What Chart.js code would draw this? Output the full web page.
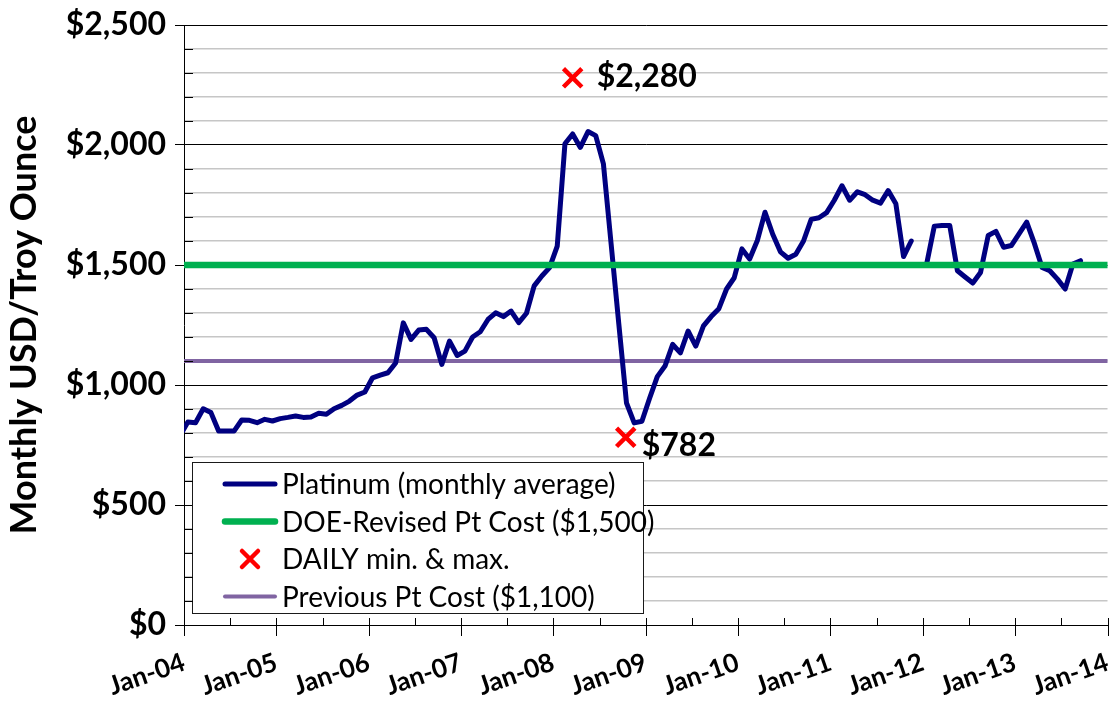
<!DOCTYPE html>
<html>
<head>
<meta charset="utf-8">
<script src="https://cdn.jsdelivr.net/npm/chart.js@4.4.1/dist/chart.umd.min.js"></script>
<style>
  html, body { margin: 0; padding: 0; background: #fff; overflow: hidden; }
  #wrap { width: 1117px; height: 702px; position: relative; overflow: hidden; }
</style>
</head>
<body>
<div id="wrap"><canvas id="ptChart" width="1125" height="702"></canvas></div>
<script>
// ===== DATA =====
// monthly average platinum price, USD/troy oz, Dec-03 .. Sep-13 (null = gap)
const firstMonth = -1; // Dec-03, counted in months from Jan-04
const platinumAvg = [
    790,                                                              // 2003 Dec
    846, 843, 901, 885, 808, 808, 808, 854, 853, 843, 857, 850,       // 2004
    860, 865, 871, 865, 867, 882, 878, 901, 915, 933, 958, 971,       // 2005
    1030, 1041, 1051, 1092, 1259, 1190, 1229, 1232, 1197, 1086, 1183, 1123, // 2006
    1141, 1200, 1222, 1273, 1301, 1285, 1308, 1260, 1299, 1413, 1454, 1489, // 2007
    1579, 2005, 2046, 1990, 2056, 2039, 1921, 1588, 1254, 925, 842, 849,    // 2008
    945, 1035, 1079, 1169, 1134, 1225, 1162, 1246, 1285, 1318, 1400, 1447,  // 2009
    1567, 1525, 1602, 1720, 1628, 1555, 1528, 1545, 1600, 1690, 1697, 1718, // 2010
    1770, 1830, 1770, 1805, 1793, 1770, 1758, 1810, 1755, 1535, 1600, null, // 2011
    1504, 1662, 1665, 1665, 1476, 1450, 1425, 1469, 1623, 1640, 1574, 1581, // 2012
    1630, 1679, 1590, 1490, 1476, 1441, 1400, 1504, 1518                    // 2013
];

const doeCost = 1500;
const previousCost = 1100;

// daily min & max (position in months from Jan-04)
const extremeMonths = [50.5, 57.4];
const extremeValues = [2280, 782];
const extremeLabels = ["$2,280", "$782"];

const xTickLabels = ["Jan-04", "Jan-05", "Jan-06", "Jan-07", "Jan-08", "Jan-09",
                     "Jan-10", "Jan-11", "Jan-12", "Jan-13", "Jan-14"];
const yTickLabels = ["$0", "$500", "$1,000", "$1,500", "$2,000", "$2,500"];

const seriesNames = ["Platinum (monthly average)", "DOE-Revised Pt Cost ($1,500)",
                     "DAILY min. & max.", "Previous Pt Cost ($1,100)"];

// ===== FONTS =====
const FONT = "Lato, 'Liberation Sans', sans-serif";
Chart.defaults.font.family = FONT;
Chart.defaults.color = "#000";

// ===== PLUGINS =====
// axis tick marks: x (major crossing, minor inside) and y minor inside
const axisTicks = {
    id: "axisTicks",
    afterDraw(chart) {
        const { ctx, chartArea, scales } = chart;
        ctx.save();
        ctx.strokeStyle = "#000";
        ctx.lineWidth = 1;
        ctx.beginPath();
        scales.x.ticks.forEach(t => {
            const x = Math.round(scales.x.getPixelForValue(t.value)) + 0.5;
            const below = t.value % 12 === 0 ? 11 : 0;
            ctx.moveTo(x, chartArea.bottom + below);
            ctx.lineTo(x, chartArea.bottom - 7);
        });
        scales.y.ticks.forEach(t => {
            if (t.value % 500 === 0) return;
            const y = Math.round(scales.y.getPixelForValue(t.value)) + 0.5;
            ctx.moveTo(chartArea.left, y);
            ctx.lineTo(chartArea.left + 9, y);
        });
        ctx.stroke();
        ctx.restore();
    }
};

// value labels next to the daily min / max markers
const extremeText = {
    id: "extremeText",
    afterDatasetsDraw(chart, args, opts) {
        const meta = chart.getDatasetMeta(opts.datasetIndex);
        const ctx = chart.ctx;
        ctx.save();
        ctx.font = "bold 32px " + FONT;
        ctx.fillStyle = "#000";
        ctx.textBaseline = "middle";
        meta.data.forEach((pt, i) => {
            const off = opts.offsets[i];
            ctx.fillText(extremeLabels[i], pt.x + off[0], pt.y + off[1]);
        });
        ctx.restore();
    }
};

// boxed legend inside the plot area
const legendBox = {
    id: "legendBox",
    afterDatasetsDraw(chart, args, opts) {
        const ctx = chart.ctx;
        ctx.save();
        ctx.fillStyle = "#fff";
        ctx.fillRect(opts.left, opts.top, opts.width, opts.height);
        ctx.strokeStyle = "#1a1a1a";
        ctx.lineWidth = 1;
        ctx.strokeRect(opts.left + 0.5, opts.top + 0.5, opts.width, opts.height);

        ctx.font = "28px " + FONT;
        ctx.textBaseline = "middle";
        opts.rows.forEach((dsIndex, row) => {
            const ds = chart.data.datasets[dsIndex];
            const y = opts.top + opts.firstRow + row * opts.rowGap;
            const x0 = opts.left + opts.sampleX;
            if (ds.type === "scatter") {
                const r = 8;
                const cx = x0 + opts.sampleLen / 2;
                ctx.strokeStyle = ds.borderColor;
                ctx.lineWidth = ds.borderWidth;
                ctx.beginPath();
                ctx.moveTo(cx - r, y - r); ctx.lineTo(cx + r, y + r);
                ctx.moveTo(cx - r, y + r); ctx.lineTo(cx + r, y - r);
                ctx.stroke();
            } else {
                ctx.strokeStyle = ds.borderColor;
                ctx.lineWidth = ds.borderWidth;
                ctx.lineCap = "round";
                ctx.beginPath();
                ctx.moveTo(x0, y);
                ctx.lineTo(x0 + opts.sampleLen, y);
                ctx.stroke();
            }
            ctx.fillStyle = "#000";
            ctx.fillText(ds.label, opts.left + opts.textX, y + 1);
        });
        ctx.restore();
    }
};

// ===== CHART =====
const ctx = document.getElementById("ptChart");

new Chart(ctx, {
    type: "line",
    data: {
        datasets: [
            {
                label: seriesNames[0],
                data: platinumAvg.map((v, i) => ({ x: firstMonth + i + 0.5, y: v })),
                borderColor: "#000080",
                borderWidth: 5,
                borderJoinStyle: "round",
                borderCapStyle: "round",
                pointRadius: 0,
                tension: 0,
                spanGaps: false,
                clip: 0,
                order: 2
            },
            {
                label: seriesNames[1],
                data: [{ x: 0, y: doeCost }, { x: 120, y: doeCost }],
                borderColor: "#00b050",
                borderWidth: 6.5,
                borderCapStyle: "round",
                pointRadius: 0,
                order: 1
            },
            {
                type: "scatter",
                label: seriesNames[2],
                data: extremeMonths.map((m, i) => ({ x: m, y: extremeValues[i] })),
                pointStyle: "crossRot",
                pointRadius: 13,
                borderColor: "#ff0000",
                backgroundColor: "#ff0000",
                borderWidth: 4.5,
                order: 0
            },
            {
                label: seriesNames[3],
                data: [{ x: 0, y: previousCost }, { x: 120, y: previousCost }],
                borderColor: "#8064a2",
                borderWidth: 4,
                borderCapStyle: "round",
                pointRadius: 0,
                order: 3
            }
        ]
    },
    options: {
        responsive: false,
        animation: false,
        layout: { padding: { top: 25, right: 9, left: 0, bottom: 0 } },
        plugins: {
            legend: { display: false },
            tooltip: { enabled: false },
            extremeText: { datasetIndex: 2, offsets: [[24, -1], [16, 8]] },
            legendBox: {
                left: 192, top: 462, width: 451, height: 151,
                sampleX: 33, sampleLen: 50, textX: 90,
                firstRow: 22, rowGap: 37.5,
                rows: [0, 1, 2, 3]
            }
        },
        scales: {
            x: {
                type: "linear",
                min: 0,
                max: 120,
                border: { color: "#000", width: 1 },
                grid: {
                    drawOnChartArea: false,
                    tickLength: 22,
                    tickColor: "rgba(0,0,0,0)"
                },
                ticks: {
                    stepSize: 6,
                    autoSkip: false,
                    maxTicksLimit: 200,
                    minRotation: 19,
                    maxRotation: 19,
                    padding: 0,
                    font: { size: 26, weight: "bold" },
                    color: "#000",
                    callback: v => v % 12 === 0 ? xTickLabels[v / 12] : ""
                },
                afterFit: s => { s.height = 77; s.paddingLeft = 0; s.paddingRight = 0; }
            },
            y: {
                min: 0,
                max: 2500,
                border: { color: "#000", width: 1 },
                grid: {
                    color: c => c.tick.value % 500 === 0 ? "#000" : "#c6c6c6",
                    lineWidth: c => c.tick.value % 500 === 0 ? 1 : 1.4,
                    tickLength: 9,
                    tickColor: c => c.tick.value % 500 === 0 ? "#000" : "rgba(0,0,0,0)"
                },
                ticks: {
                    stepSize: 100,
                    autoSkip: false,
                    maxTicksLimit: 200,
                    padding: 9,
                    font: { size: 32, weight: "bold" },
                    color: "#000",
                    callback: v => v % 500 === 0 ? yTickLabels[v / 500] : ""
                },
                title: {
                    display: true,
                    text: "Monthly USD/Troy Ounce",
                    font: { size: 36, weight: "bold" },
                    color: "#000",
                    padding: { top: 3, bottom: 0 }
                },
                afterFit: s => { s.width = 184; s.paddingTop = 0; s.paddingBottom = 0; }
            }
        }
    },
    plugins: [axisTicks, legendBox, extremeText]
});
</script>
</body>
</html>
